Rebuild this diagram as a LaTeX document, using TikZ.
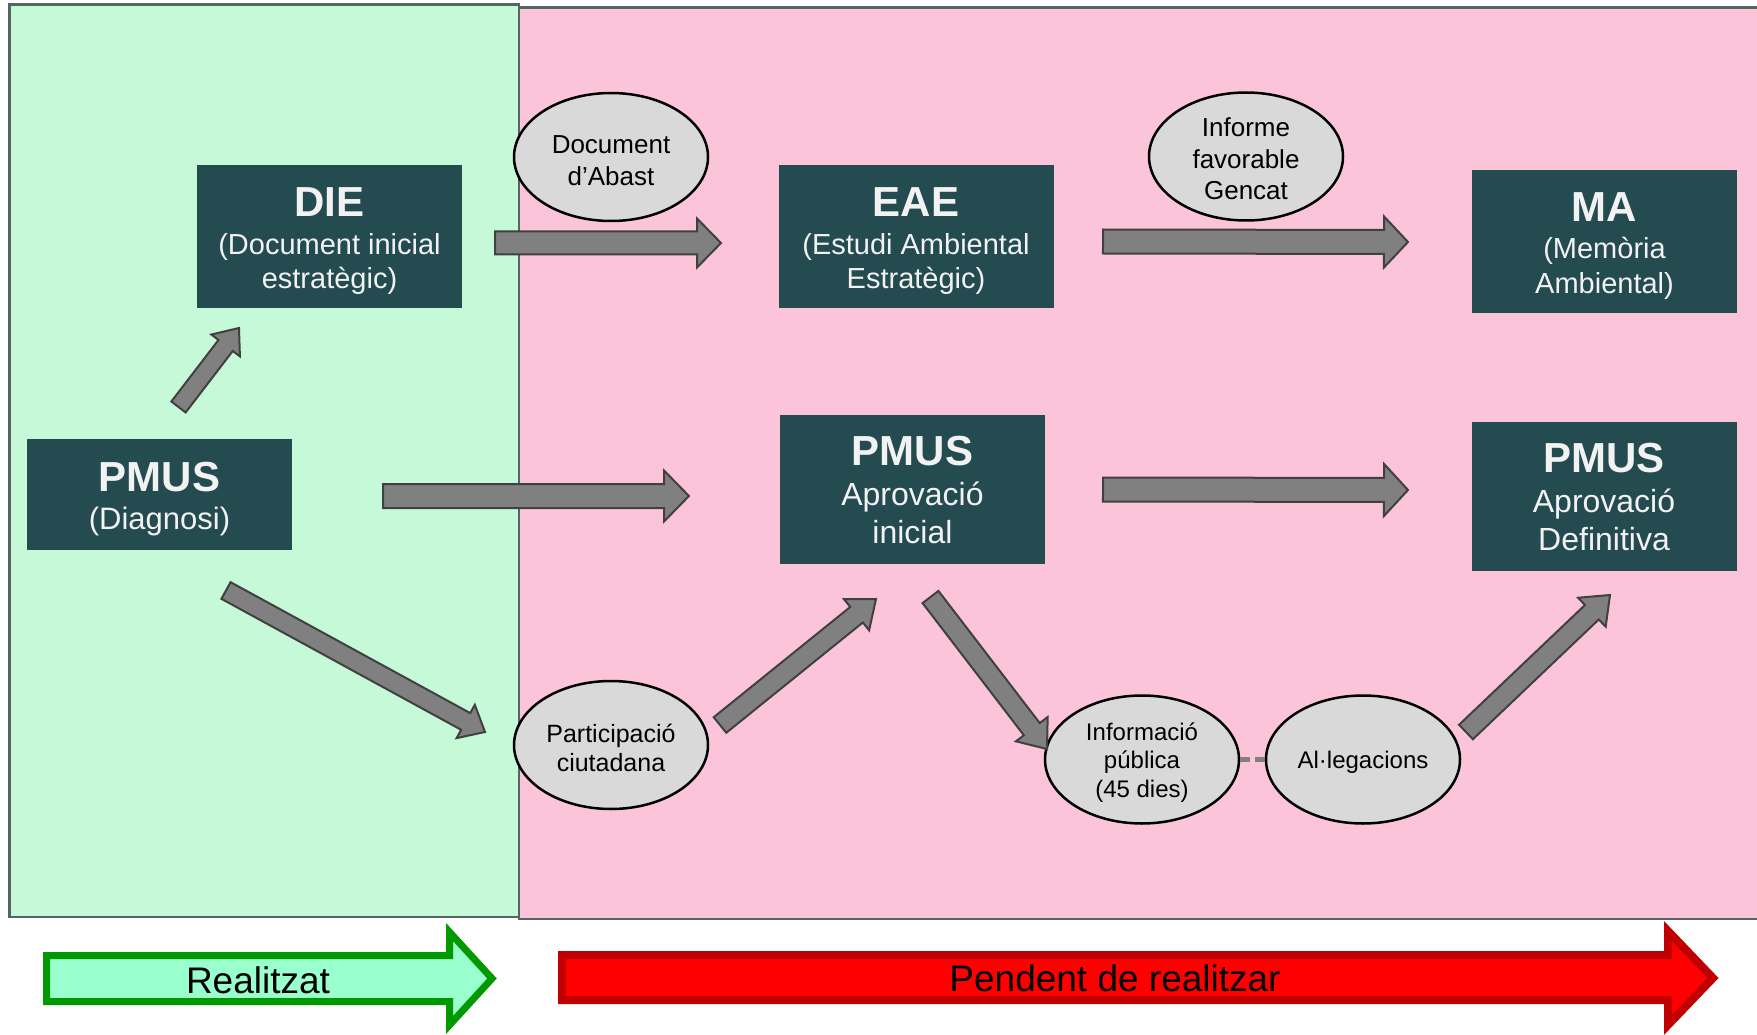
\documentclass[tikz,border=0pt]{standalone}
\usepackage{fontspec}
\setmainfont{Liberation Sans}
\usetikzlibrary{calc,shapes.geometric}
\definecolor{greenbg}{RGB}{198,249,216}
\definecolor{pinkbg}{RGB}{252,196,217}
\definecolor{panelline}{RGB}{86,100,100}
\definecolor{boxc}{RGB}{35,75,80}
\definecolor{boxtext}{RGB}{242,242,242}
\definecolor{ellfill}{RGB}{217,217,217}
\definecolor{arrfill}{RGB}{128,128,128}
\definecolor{arrline}{RGB}{64,64,64}
\definecolor{doneFill}{RGB}{153,255,204}
\definecolor{doneLine}{RGB}{0,153,0}
\definecolor{todoFill}{RGB}{255,0,0}
\definecolor{todoLine}{RGB}{192,0,0}
\newcommand\boxtitle[2][30pt]{{\fontsize{42}{42}\selectfont\bfseries\rule{0pt}{#1}#2}}
% block arrow: tail, tip, shaft half width, head half width, head length
\newcommand\blockarrow[5]{%
  \coordinate (#1-#2-h) at ($(#2)!#5!(#1)$);
  \draw[blockarr] ($(#1)!#3!90:(#2)$) -- ($(#1-#2-h)!#3!90:(#2)$) -- ($(#1-#2-h)!#4!90:(#2)$)
    -- (#2) -- ($(#1-#2-h)!#4!-90:(#2)$) -- ($(#1-#2-h)!#3!-90:(#2)$) -- ($(#1)!#3!-90:(#2)$) -- cycle;
}
\begin{document}
\begin{tikzpicture}[x=1pt,y=-1pt,
  box/.style={rectangle, fill=boxc, text=boxtext, align=center, inner sep=0pt},
  ell/.style={ellipse, draw=black, line width=2.5pt, fill=ellfill, inner sep=0pt,
    minimum width=194pt, minimum height=128pt, align=center},
  blockarr/.style={fill=arrfill, draw=arrline, line width=2pt, line join=miter},
  panel/.style={draw=panelline, line width=2.5pt}]
\useasboundingbox (0,0) rectangle (1757,1035);
\clip (0,0) rectangle (1757,1035);
\fill[white] (0,0) rectangle (1757,1035);
% panels
\draw[panel, fill=pinkbg] (519,7.5) rectangle (1790,919);
\draw[panel, fill=greenbg] (9.5,4.5) rectangle (519,917);

% boxes
\node[box, minimum width=265pt, minimum height=142pt, font=\fontsize{29}{34}\selectfont] (die) at (329.5,236.5)
  {\boxtitle[39pt]{DIE}\\[4pt](Document inicial\\estratègic)};
\node[box, minimum width=275pt, minimum height=142pt, font=\fontsize{29}{34}\selectfont] (eae) at (916,236.5)
  {\boxtitle[39pt]{EAE}\\[4pt](Estudi Ambiental\\Estratègic)};
\node[box, minimum width=265pt, minimum height=143pt, font=\fontsize{29}{35}\selectfont] (ma) at (1604.5,241.5)
  {\boxtitle[39pt]{MA}\\[2pt](Memòria\\Ambiental)};
\node[box, minimum width=265pt, minimum height=111pt, font=\fontsize{31}{38}\selectfont] (diag) at (159.5,494.5)
  {\boxtitle[39pt]{PMUS}\\(Diagnosi)};
\node[box, minimum width=265pt, minimum height=149pt, font=\fontsize{32}{38}\selectfont] (ini) at (912.5,489.5)
  {\boxtitle{PMUS}\\[2pt]Aprovació\\inicial};
\node[box, minimum width=265pt, minimum height=149pt, font=\fontsize{32}{38}\selectfont] (def) at (1604,496.5)
  {\boxtitle{PMUS}\\[2pt]Aprovació\\Definitiva};

% ellipses
\node[ell, font=\fontsize{26}{32}\selectfont] (abast) at (611,157) {\rule{0pt}{26pt}Document\\d’Abast};
\node[ell, font=\fontsize{26}{31.5}\selectfont] (informe) at (1246,156.5) {\rule{0pt}{24pt}Informe\\favorable\\Gencat};
\node[ell, font=\fontsize{25}{29}\selectfont] (part) at (611,745) {\rule{0pt}{24pt}Participació\\ciutadana};
\node[ell, font=\fontsize{24}{28.5}\selectfont] (infpub) at (1142,759.5) {\rule{0pt}{23pt}Informació\\pública\\(45 dies)};
\node[ell, font=\fontsize{24}{28.5}\selectfont] (alleg) at (1363,759.5) {\rule{0pt}{22pt}Al·legacions};

% dashed link
\draw[arrfill, line width=5pt, dash pattern=on 10pt off 5pt] (infpub.east) -- (alleg.west);

% arrow end points
\coordinate (t1) at (178.5,407);  \coordinate (p1) at (239,328);
\coordinate (t2) at (495,243);    \coordinate (p2) at (721,243);
\coordinate (t3) at (1103,241.5); \coordinate (p3) at (1408,242);
\coordinate (t4) at (383,496);    \coordinate (p4) at (689,496);
\coordinate (t5) at (226,590.5);  \coordinate (p5) at (485,732);
\coordinate (t6) at (720,725);    \coordinate (p6) at (876,599);
\coordinate (t7) at (930.5,597);  \coordinate (p7) at (1047,749);
\coordinate (t8) at (1466,732);   \coordinate (p8) at (1610,595);
\coordinate (t9) at (1103,489.5); \coordinate (p9) at (1408,490);

\blockarrow{t1}{p1}{9pt}{18pt}{22pt}
\blockarrow{t2}{p2}{11.5pt}{24.5pt}{24pt}
\blockarrow{t3}{p3}{12pt}{25.5pt}{24pt}
\blockarrow{t4}{p4}{12pt}{25.5pt}{25pt}
\blockarrow{t5}{p5}{9.5pt}{19pt}{22pt}
\blockarrow{t6}{p6}{10pt}{20pt}{25pt}
\blockarrow{t7}{p7}{10pt}{20pt}{25pt}
\blockarrow{t8}{p8}{10pt}{20pt}{25pt}
\blockarrow{t9}{p9}{12pt}{26pt}{24pt}

% legend arrows
\draw[fill=doneFill, draw=doneLine, line width=7pt, line join=miter]
  (46.5,955.5) -- (449.5,955.5) -- (449.5,932) -- (492,978.5) -- (449.5,1025) -- (449.5,1001.5) -- (46.5,1001.5) -- cycle;
\draw[fill=todoFill, draw=todoLine, line width=8pt, line join=miter]
  (562,955) -- (1668,955) -- (1668,931) -- (1713,978) -- (1668,1025) -- (1668,1000) -- (562,1000) -- cycle;
\node[font=\fontsize{37}{40}\selectfont] (done) at (258,980) {Realitzat};
\node[font=\fontsize{37}{40}\selectfont] (todo) at (1115,978) {Pendent de realitzar};
\end{tikzpicture}
\end{document}
